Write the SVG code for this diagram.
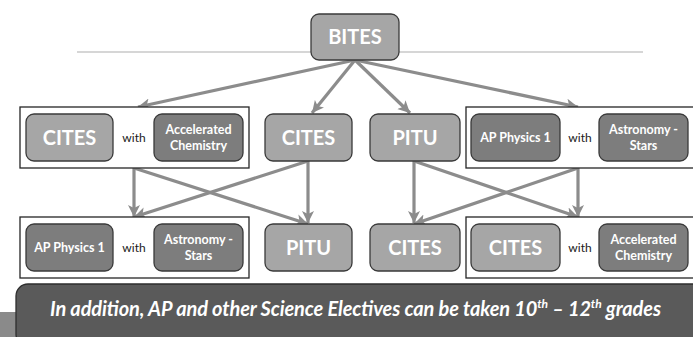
<svg xmlns="http://www.w3.org/2000/svg" width="693" height="337" viewBox="0 0 693 337">
<style>
.light{fill:#a6a6a6;stroke:#3a3a3a;stroke-width:1.3}
.dark{fill:#7d7d7d;stroke:#3a3a3a;stroke-width:1.3}
.group{fill:#ffffff;stroke:#262626;stroke-width:1.3}
.big{font-family:Lato,"Open Sans",sans-serif;font-weight:700;font-size:20px;fill:#ffffff;text-anchor:middle}
.small{font-family:Lato,"Open Sans",sans-serif;font-weight:700;font-size:12.5px;fill:#ffffff;text-anchor:middle}
.with{font-family:Lato,"Open Sans",sans-serif;font-size:12px;fill:#1a1a1a;text-anchor:middle}
.conn{stroke:#8c8c8c;stroke-width:3.2;fill:none;marker-end:url(#ah)}
.banner{font-family:Lato,"Open Sans",sans-serif;font-weight:700;font-style:italic;font-size:20px;fill:#ffffff}
</style>
<defs>
<marker id="ah" markerUnits="userSpaceOnUse" markerWidth="13" markerHeight="13" viewBox="0 0 13 13" refX="12" refY="6.5" orient="auto">
<path d="M0,0.5 L12,6.5 L0,12.5 L3,6.5 Z" fill="#8c8c8c"/>
</marker>
</defs>
<rect x="0" y="0" width="693" height="337" fill="#ffffff"/>
<line x1="77" y1="52" x2="643" y2="52" stroke="#c8c8c8" stroke-width="1.5"/>
<g id="connectors">
<line class="conn" x1="355" y1="60" x2="138" y2="107"/>
<line class="conn" x1="355" y1="60" x2="312" y2="113"/>
<line class="conn" x1="355" y1="60" x2="410" y2="113"/>
<line class="conn" x1="355" y1="60" x2="578" y2="107"/>
<line class="conn" x1="134" y1="168" x2="134" y2="217"/>
<line class="conn" x1="134" y1="168" x2="308" y2="224"/>
<line class="conn" x1="308" y1="161" x2="308" y2="223"/>
<line class="conn" x1="308" y1="161" x2="134" y2="217"/>
<line class="conn" x1="414" y1="161" x2="414" y2="223"/>
<line class="conn" x1="414" y1="161" x2="578" y2="217"/>
<line class="conn" x1="578" y1="168" x2="578" y2="217"/>
<line class="conn" x1="578" y1="168" x2="414" y2="224"/>
</g>
<g id="bites">
<rect class="light" x="311" y="14" width="88" height="46" rx="8"/>
<text class="big" x="355" y="44">BITES</text>
</g>
<g id="group1">
<rect class="group" x="20" y="107" width="229" height="61"/>
<rect class="light" x="26" y="114" width="87" height="47" rx="8"/>
<text class="big" x="69.5" y="144.5">CITES</text>
<text class="with" x="134" y="141.5">with</text>
<rect class="dark" x="154" y="114" width="89" height="47" rx="8"/>
<text class="small" x="198.5" y="134">Accelerated</text>
<text class="small" x="198.5" y="150">Chemistry</text>
</g>
<g id="cites-mid">
<rect class="light" x="265" y="114" width="87" height="47" rx="8"/>
<text class="big" x="308.5" y="144.5">CITES</text>
</g>
<g id="pitu-mid">
<rect class="light" x="370" y="114" width="90" height="47" rx="8"/>
<text class="big" x="415" y="144.5">PITU</text>
</g>
<g id="group2">
<rect class="group" x="466" y="107" width="240" height="61"/>
<rect class="dark" x="471" y="114" width="89" height="47" rx="8"/>
<text class="small" x="515.5" y="142">AP Physics 1</text>
<text class="with" x="580" y="141.5">with</text>
<rect class="dark" x="599" y="114" width="89" height="47" rx="8"/>
<text class="small" x="643.5" y="134">Astronomy -</text>
<text class="small" x="643.5" y="150">Stars</text>
</g>
<g id="group3">
<rect class="group" x="20" y="217" width="229" height="61"/>
<rect class="dark" x="26" y="224" width="87" height="47" rx="8"/>
<text class="small" x="69.5" y="252">AP Physics 1</text>
<text class="with" x="134" y="251.5">with</text>
<rect class="dark" x="154" y="224" width="89" height="47" rx="8"/>
<text class="small" x="198.5" y="244">Astronomy -</text>
<text class="small" x="198.5" y="260">Stars</text>
</g>
<g id="pitu-bottom">
<rect class="light" x="265" y="224" width="87" height="47" rx="8"/>
<text class="big" x="308.5" y="254.5">PITU</text>
</g>
<g id="cites-bottom">
<rect class="light" x="370" y="224" width="90" height="47" rx="8"/>
<text class="big" x="415" y="254.5">CITES</text>
</g>
<g id="group4">
<rect class="group" x="466" y="217" width="240" height="61"/>
<rect class="light" x="471" y="224" width="89" height="47" rx="8"/>
<text class="big" x="515.5" y="254.5">CITES</text>
<text class="with" x="580" y="251.5">with</text>
<rect class="dark" x="599" y="224" width="89" height="47" rx="8"/>
<text class="small" x="643.5" y="244">Accelerated</text>
<text class="small" x="643.5" y="260">Chemistry</text>
</g>
<g id="banner">
<rect x="0" y="312" width="20" height="25" fill="#8a8a8a"/>
<rect x="16" y="284" width="690" height="62" rx="12" fill="#5a5a5a" stroke="#2e2e2e" stroke-width="1.3"/>
<text class="banner" x="50" y="316" textLength="611" lengthAdjust="spacing">In addition, AP and other Science Electives can be taken 10<tspan font-size="12" dy="-8">th</tspan><tspan dy="8"> – 12</tspan><tspan font-size="12" dy="-8">th</tspan><tspan dy="8"> grades</tspan></text>
</g>
</svg>
